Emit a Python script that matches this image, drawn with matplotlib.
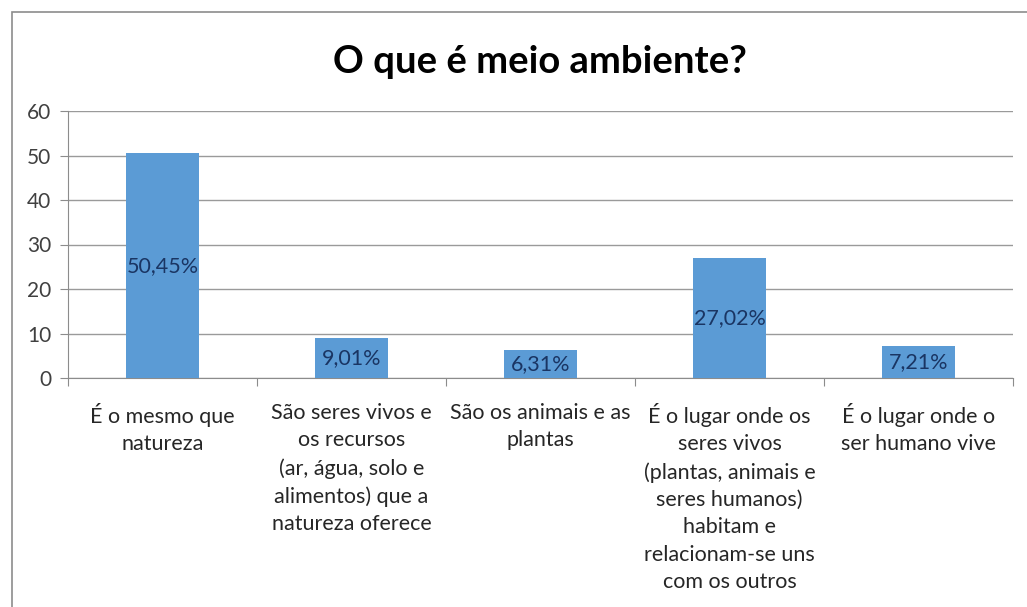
import matplotlib
matplotlib.use("Agg")
import matplotlib.pyplot as plt
import numpy as np
from matplotlib.patches import Rectangle

# dados do gráfico
categorias = [
    "É o mesmo que\nnatureza",
    "São seres vivos e\nos recursos\n(ar, água, solo e\nalimentos) que a\nnatureza oferece",
    "São os animais e as\nplantas",
    "É o lugar onde os\nseres vivos\n(plantas, animais e\nseres humanos)\nhabitam e\nrelacionam-se uns\ncom os outros",
    "É o lugar onde o\nser humano vive",
]
valores = [50.45, 9.01, 6.31, 27.02, 7.21]
rotulos = ["50,45%", "9,01%", "6,31%", "27,02%", "7,21%"]
yticks = [0, 10, 20, 30, 40, 50, 60]

plt.rcParams['font.family'] = ['Lato', 'DejaVu Sans']

fig = plt.figure(figsize=(10.27, 6.07), dpi=100)
fig.patch.set_facecolor("white")

# moldura do gráfico (borda cinza)
fig.patches.append(Rectangle((12 / 1027, -0.1), 1.2, (607 - 12) / 607 + 0.1,
                             transform=fig.transFigure, fill=False,
                             edgecolor="#8c8c8c", linewidth=1.2))

ax = fig.add_axes([68 / 1027, 229 / 607, 945 / 1027, 267 / 607])

x = np.arange(len(valores)) + 0.5
barras = ax.bar(x, valores, width=0.39, color="#5b9bd5", zorder=3)

for xi, v, r in zip(x, valores, rotulos):
    ax.text(xi, v / 2, r, ha="center", va="center", fontsize=15.5,
            color="#1a3563", zorder=4)

ax.set_xlim(0, len(valores))
ax.set_ylim(0, 60)
ax.set_yticks(yticks)
ax.set_yticklabels([str(t) for t in yticks], fontsize=15, color="#404040")
ax.yaxis.grid(True, color="#9a9a9a", linewidth=1.0, zorder=0)

# marcas entre categorias
ax.set_xticks(np.arange(len(valores) + 1))
ax.set_xticklabels([])
ax.set_xticks(x, minor=True)
ax.set_xticklabels(categorias, minor=True, fontsize=15.5, color="#262626",
                   linespacing=1.46, va="top")
ax.tick_params(axis="x", which="minor", length=0, pad=18)
ax.tick_params(axis="x", which="major", length=6, color="#8c8c8c", direction="out")
ax.tick_params(axis="y", length=6, color="#8c8c8c", pad=6)

for s in ["top", "right"]:
    ax.spines[s].set_visible(False)
ax.spines["left"].set_color("#8c8c8c")
ax.spines["bottom"].set_color("#8c8c8c")

fig.text(540 / 1027, 1 - 62 / 607, "O que é meio ambiente?", ha="center",
         va="center", fontsize=27.5, fontweight="bold", color="black")

fig.savefig("out.png", dpi=100)
